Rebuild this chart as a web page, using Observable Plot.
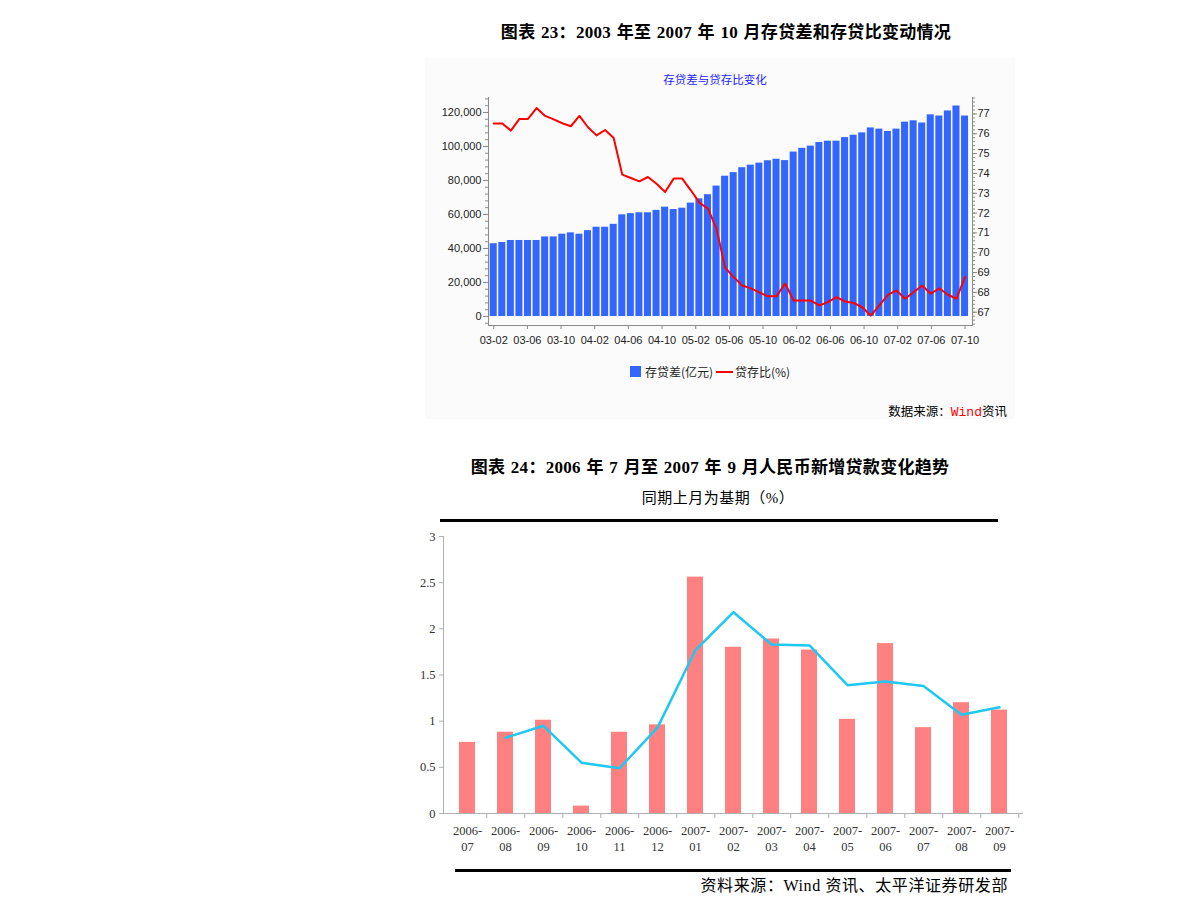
<!DOCTYPE html>
<html><head><meta charset="utf-8">
<script src="https://cdn.jsdelivr.net/npm/d3@7"></script>
<script src="https://cdn.jsdelivr.net/npm/@observablehq/plot@0.6"></script>
<style>
html,body{margin:0;padding:0;background:#fff;}
body{width:1190px;height:911px;position:relative;overflow:hidden;font-family:"Liberation Serif","Noto Sans CJK SC",serif;color:#000;}
.abs{position:absolute;white-space:nowrap;}
.ctr{transform:translate(-50%,-50%);}
.title{font-size:17px;font-weight:bold;letter-spacing:0.3px;word-spacing:1px;}
#panel{left:425px;top:58px;width:590px;height:361px;background:#fbfbfb;}
#t2in{font-family:"Noto Sans CJK SC",sans-serif;font-size:11.5px;color:#2222ff;}
.leg{font-family:"Noto Sans CJK SC",sans-serif;font-size:12px;color:#222;}
#src1{font-family:"Noto Sans CJK SC",sans-serif;font-size:12.5px;}
#src1 .w{font-family:"Liberation Mono",monospace;color:#ff0000;font-size:13px;}
#sub2{font-size:15px;letter-spacing:0.5px;}
#src2{font-size:16px;letter-spacing:0.6px;}
svg{overflow:visible;}
</style></head><body>
<div class="abs" id="panel"></div>
<div class="abs ctr title" style="left:726px;top:30px;">图表 23：2003 年至 2007 年 10 月存贷差和存贷比变动情况</div>
<div class="abs ctr" id="t2in" style="left:715px;top:79px;">存贷差与贷存比变化</div>
<div class="abs" id="chartTop" style="left:420px;top:90px;"></div>
<div class="abs" style="left:630px;top:366px;width:11px;height:11px;background:#3366ff;"></div>
<div class="abs leg" style="left:645px;top:363px;">存贷差(亿元)</div>
<div class="abs" style="left:716px;top:371px;width:17px;height:2px;background:#ff0000;"></div>
<div class="abs leg" style="left:735px;top:363px;">贷存比(%)</div>
<div class="abs" id="src1" style="right:183px;top:401px;">数据来源：<span class="w">Wind</span>资讯</div>

<div class="abs ctr title" style="left:710px;top:465px;">图表 24：2006 年 7 月至 2007 年 9 月人民币新增贷款变化趋势</div>
<div class="abs ctr" id="sub2" style="left:718px;top:496px;">同期上月为基期（%）</div>
<div class="abs" style="left:440px;top:519px;width:558px;height:3px;background:#000;"></div>
<div class="abs" id="chartBottom" style="left:380px;top:520px;"></div>
<div class="abs" style="left:455px;top:869px;width:556px;height:3px;background:#000;"></div>
<div class="abs" id="src2" style="right:182px;top:872px;">资料来源：Wind 资讯、太平洋证券研发部</div>

<script>
// ---------- Chart 23 data ----------
const topTickLabels = ["03-02","03-06","03-10","04-02","04-06","04-10","05-02","05-06","05-10","06-02","06-06","06-10","07-02","07-06","07-10"];
// 存贷差 (亿元)
const depositLoanGap = [
  42800, 43500, 44700, 44700, 44700, 44700, 46800, 46800, 48400, 49200,
  48400, 50500, 52500, 52500, 54200, 59800, 60500, 61000, 61000, 62400,
  64300, 62900, 63700, 66700, 69200, 71600, 76700, 82500, 84600, 87500,
  89000, 90200, 91600, 92500, 91700, 96700, 98900, 100200, 102300, 103100,
  103100, 105200, 106600, 108000, 110900, 110200, 108800, 110200, 114300, 115100,
  113800, 118600, 117900, 120900, 123800, 117900
];
// 贷存比 (%)
const loanDepositRatio = [
  76.52, 76.52, 76.16, 76.75, 76.75, 77.30, 76.90, 76.73, 76.53, 76.38,
  76.90, 76.33, 75.92, 76.19, 75.79, 73.94, 73.77, 73.60, 73.82, 73.48,
  73.06, 73.74, 73.74, 73.15, 72.53, 72.22, 71.20, 69.25, 68.77, 68.35,
  68.20, 68.00, 67.80, 67.80, 68.45, 67.59, 67.59, 67.59, 67.34, 67.51,
  67.76, 67.54, 67.47, 67.25, 66.83, 67.34, 67.88, 68.10, 67.68, 68.01,
  68.35, 67.93, 68.21, 67.88, 67.68, 68.77
];
const leftTicks = [0, 20000, 40000, 60000, 80000, 100000, 120000];
const rightTicks = [67, 68, 69, 70, 71, 72, 73, 74, 75, 76, 77];

// ---------- Chart 24 data ----------
const months2 = ["2006-07","2006-08","2006-09","2006-10","2006-11","2006-12","2007-01","2007-02","2007-03","2007-04","2007-05","2007-06","2007-07","2007-08","2007-09"];
const newLoanBars = [0.77, 0.88, 1.01, 0.08, 0.88, 0.96, 2.56, 1.80, 1.89, 1.77, 1.02, 1.84, 0.93, 1.20, 1.12];
const newLoanLine = [null, 0.82, 0.95, 0.55, 0.49, 0.93, 1.77, 2.18, 1.83, 1.82, 1.39, 1.43, 1.38, 1.07, 1.15];
const bottomTicks = [0, 0.5, 1, 1.5, 2, 2.5, 3];

// ---------- Chart 23 ----------
const yLo = -5300, yHi = 128800, rLo = 66.33, rHi = 77.83;
const toLeft = v => yLo + (v - rLo) / (rHi - rLo) * (yHi - yLo);
const fromLeft = y => rLo + (y - yLo) / (yHi - yLo) * (rHi - rLo);
const topData = depositLoanGap.map((v, i) => ({i, gap: v, ratio: loanDepositRatio[i]}));
const nTop = topData.length;
const tickPos = topTickLabels.map((_, k) => k * (nTop - 1) / (topTickLabels.length - 1));

const chartTop = Plot.plot({
  width: 600, height: 270,
  marginLeft: 68, marginRight: 48, marginTop: 7, marginBottom: 35,
  x: {domain: [-0.61, nTop - 1 + 0.87], axis: null, label: null},
  y: {domain: [yLo, yHi], axis: null, label: null},
  style: {fontFamily: "'Liberation Sans', Arial, sans-serif", fontSize: "11px", color: "#222", background: "transparent"},
  marks: [
    Plot.rectY(topData, {x1: d => d.i - 0.41, x2: d => d.i + 0.41, y: "gap", fill: "#3366ff"}),
    Plot.line(topData, {x: "i", y: d => toLeft(d.ratio), stroke: "#ff0000", strokeWidth: 2}),
    Plot.frame({anchor: "left", stroke: "#8a8a8a"}),
    Plot.frame({anchor: "right", stroke: "#8a8a8a"}),
    Plot.frame({anchor: "bottom", stroke: "#8a8a8a"}),
    Plot.axisY({ticks: d3.range(-4000, yHi, 4000), tickSize: 3, tickFormat: () => "", stroke: "#8a8a8a", label: null}),
    Plot.axisY({ticks: leftTicks, tickSize: 5, tickPadding: 2, tickFormat: d3.format(","), stroke: "#8a8a8a", fill: "#222", label: null}),
    Plot.axisY({anchor: "right", ticks: d3.range(66.4, 77.81, 0.2).map(toLeft), tickSize: 2, tickFormat: () => "", stroke: "#8a8a8a", label: null}),
    Plot.axisY({anchor: "right", ticks: rightTicks.map(toLeft), tickSize: 4, tickPadding: 1, tickFormat: d => String(Math.round(fromLeft(d))), stroke: "#8a8a8a", fill: "#222", label: null}),
    Plot.axisX({ticks: tickPos, tickSize: 4, tickPadding: 7, tickFormat: d => topTickLabels[tickPos.indexOf(d)], stroke: "#8a8a8a", fill: "#222", label: null})
  ]
});
document.getElementById("chartTop").appendChild(chartTop);

// ---------- Chart 24 ----------
const bottomData = months2.map((m, i) => ({m, bar: newLoanBars[i], line: newLoanLine[i]}));
const bW = 660, bML = 63, bMR = 18;
const step = (bW - bML - bMR) / months2.length;
const chartBottom = Plot.plot({
  width: bW, height: 340,
  marginLeft: bML, marginRight: bMR, marginTop: 16, marginBottom: 47,
  x: {domain: months2, paddingInner: 0.58, paddingOuter: 0.29, axis: null, label: null},
  y: {domain: [0, 3], axis: null, label: null},
  style: {fontFamily: "'Liberation Serif', serif", fontSize: "12.5px", color: "#333", background: "transparent"},
  marks: [
    Plot.barY(bottomData, {x: "m", y: "bar", fill: "#ff8080"}),
    Plot.line(bottomData.filter(d => d.line != null), {x: "m", y: "line", stroke: "#1ec8f2", strokeWidth: 2.5}),
    Plot.frame({anchor: "left", stroke: "#b0b0b0"}),
    Plot.frame({anchor: "bottom", stroke: "#b0b0b0"}),
    Plot.axisY({ticks: bottomTicks, tickSize: 4, tickPadding: 4, tickFormat: d => String(d), stroke: "#b0b0b0", fill: "#333", label: null}),
    Plot.axisX({tickSize: 5, tickFormat: () => "", dx: step / 2, stroke: "#b0b0b0", label: null}),
    Plot.axisX({tickSize: 0, tickPadding: 10, lineHeight: 1.3, tickFormat: d => d.replace("-", "-\n"), fill: "#333", label: null})
  ]
});
document.getElementById("chartBottom").appendChild(chartBottom);
</script>
</body></html>
